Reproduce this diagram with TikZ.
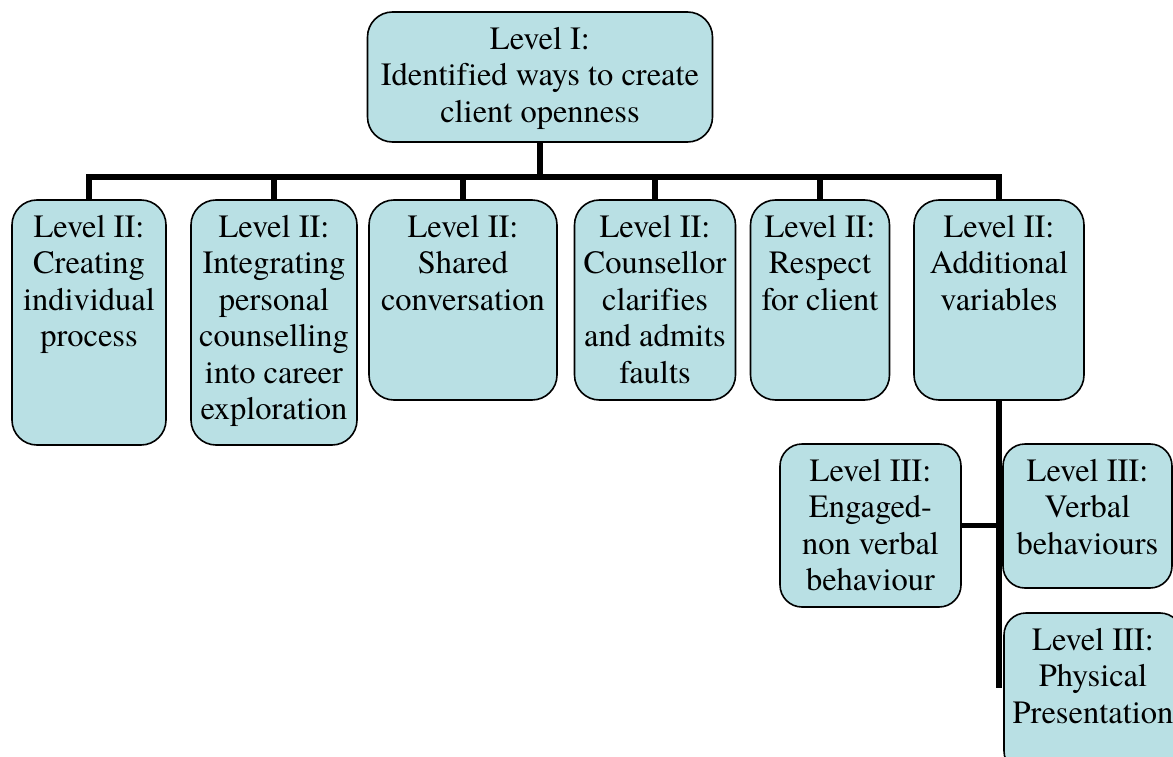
\documentclass[tikz,border=0pt]{standalone}
\usepackage{fontspec}
\setmainfont{TeX Gyre Termes}[Ligatures=NoCommon]
\begin{document}
\begin{tikzpicture}[x=1pt,y=-1pt,
  box/.style={draw=black, line width=1.6pt, fill=boxfill, rounded corners=25pt,
    inner sep=0pt, outer sep=0pt},
  smallbox/.style={box, rounded corners=22pt},
  txt/.style={anchor=north, align=center, inner sep=0pt,
    font=\fontsize{32.5}{36.5}\selectfont},
  conn/.style={draw=black, line width=5.8pt, line cap=butt, line join=miter}]
\definecolor{boxfill}{RGB}{185,224,228}
\clip (0,0) rectangle (1173,757);
\fill[white] (0,0) rectangle (1173,757);

% level I
\node[box, minimum width=345, minimum height=130] (top) at (540,77) {};
\node[txt] (ttop) at ([yshift=-15pt]top.north) {Level I:\\Identified ways to create\\client openness};

% level II
\node[box, minimum width=154, minimum height=245] (b1) at (89,322.5) {};
\node[txt] (t1) at ([yshift=-15pt]b1.north) {Level II:\\Creating\\individual\\process};
\node[box, minimum width=166, minimum height=245] (b2) at (274,322.5) {};
\node[txt] (t2) at ([yshift=-15pt]b2.north) {Level II:\\Integrating\\personal\\counselling\\into career\\exploration};
\node[box, minimum width=188, minimum height=200] (b3) at (463,300) {};
\node[txt] (t3) at ([yshift=-15pt]b3.north) {Level II:\\Shared\\conversation};
\node[box, minimum width=161, minimum height=200] (b4) at (655,300) {};
\node[txt] (t4) at ([yshift=-15pt]b4.north) {Level II:\\Counsellor\\clarifies\\and admits\\faults};
\node[box, minimum width=139, minimum height=200] (b5) at (820,300) {};
\node[txt] (t5) at ([yshift=-15pt]b5.north) {Level II:\\Respect\\for client};
\node[box, minimum width=170, minimum height=200] (b6) at (999,300) {};
\node[txt] (t6) at ([yshift=-15pt]b6.north) {Level II:\\Additional\\variables};

% level III
\node[smallbox, minimum width=181, minimum height=163] (e) at (870.5,525.5) {};
\node[txt] (te) at ([yshift=-15pt]e.north) {Level III:\\Engaged-\\non verbal\\behaviour};
\node[smallbox, minimum width=169, minimum height=144] (v) at (1087.5,516) {};
\node[txt] (tv) at ([yshift=-15pt]v.north) {Level III:\\Verbal\\behaviours};
\node[smallbox, minimum width=178, minimum height=160] (p) at (1093,693) {};
\node[txt] (tp) at ([yshift=-15pt]p.north) {Level III:\\Physical\\Presentation};

% connectors
\coordinate (bus) at (540,177);
\coordinate (l3end) at (999,688);
\draw[conn] (top.south) -- (bus);
\draw[conn] (b1.north) |- (bus) -| (b6.north);
\draw[conn] (b2.north) -- (b2.north |- bus);
\draw[conn] (b3.north) -- (b3.north |- bus);
\draw[conn] (b4.north) -- (b4.north |- bus);
\draw[conn] (b5.north) -- (b5.north |- bus);
\draw[conn] (b6.south) -- (l3end);
\draw[conn] (e.east) -- (e.east -| l3end);
\end{tikzpicture}
\end{document}
